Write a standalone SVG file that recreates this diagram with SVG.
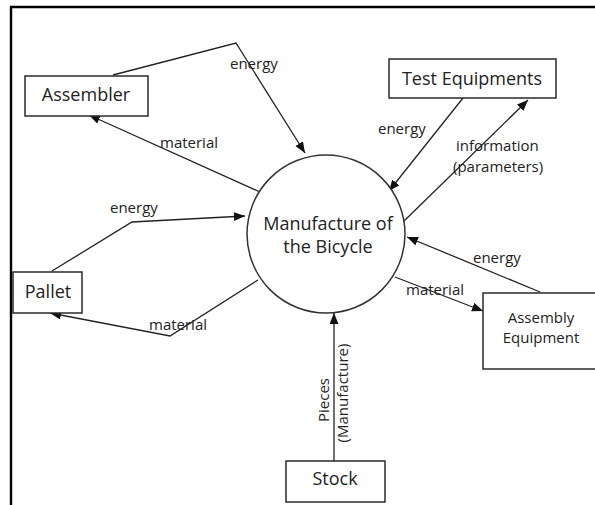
<svg xmlns="http://www.w3.org/2000/svg" width="595" height="505" viewBox="0 0 595 505">
<style>
.box{fill:#fff;stroke:#2a2a2a;stroke-width:1.5}
.circ{fill:#fff;stroke:#333;stroke-width:1.5}
.ln{fill:none;stroke:#222;stroke-width:1.3}
.t{font-family:"Open Sans","Liberation Sans",sans-serif;fill:#222}
.nt{font-size:18px}
.lt{font-size:15px}
</style>
<defs>
<marker id="ah" markerUnits="userSpaceOnUse" markerWidth="12" markerHeight="10" refX="11" refY="4.5" orient="auto">
<path d="M0,0 L11,4.5 L0,9 z" fill="#111"/>
</marker>
</defs>
<rect width="595" height="505" fill="#fff"/>
<path d="M11,505 V7 H595" fill="none" stroke="#000" stroke-width="2.4"/>
<g id="connectors">
<path class="ln" d="M113,75 L236,43 L305,153" marker-end="url(#ah)"/>
<path class="ln" d="M260,192 L89,115" marker-end="url(#ah)"/>
<path class="ln" d="M463,98 L389,191" marker-end="url(#ah)"/>
<path class="ln" d="M403,222 L528,100" marker-end="url(#ah)"/>
<path class="ln" d="M52,271 L132,222 L245,216" marker-end="url(#ah)"/>
<path class="ln" d="M258,280 L170,336 L50,313" marker-end="url(#ah)"/>
<path class="ln" d="M540,292 L407,237" marker-end="url(#ah)"/>
<path class="ln" d="M395,277 L483,311" marker-end="url(#ah)"/>
<path class="ln" d="M334,461 L334,313" marker-end="url(#ah)"/>
<text class="t lt" x="230" y="69">energy</text>
<text class="t lt" x="160" y="148">material</text>
<text class="t lt" x="378" y="134">energy</text>
<text class="t lt" x="456" y="151">information</text>
<text class="t lt" x="453" y="172">(parameters)</text>
<text class="t lt" x="110" y="213">energy</text>
<text class="t lt" x="149" y="330">material</text>
<text class="t lt" x="473" y="263">energy</text>
<text class="t lt" x="406" y="295">material</text>
<text class="t lt" transform="translate(329,400) rotate(-90)" text-anchor="middle">Pieces</text>
<text class="t lt" transform="translate(348,393) rotate(-90)" text-anchor="middle">(Manufacture)</text>
</g>
<g id="manufacture">
<circle class="circ" cx="326" cy="234" r="79"/>
<text class="t nt" x="328" y="230" text-anchor="middle">Manufacture of</text>
<text class="t nt" x="328" y="253" text-anchor="middle">the Bicycle</text>
</g>
<g id="assembler">
<rect class="box" x="25" y="76" width="123" height="40"/>
<text class="t nt" x="86" y="101" text-anchor="middle">Assembler</text>
</g>
<g id="test-equipments">
<rect class="box" x="389" y="59" width="167" height="39"/>
<text class="t nt" x="472" y="85" text-anchor="middle">Test Equipments</text>
</g>
<g id="pallet">
<rect class="box" x="13" y="272" width="69" height="41"/>
<text class="t nt" x="48" y="298" text-anchor="middle">Pallet</text>
</g>
<g id="assembly-equipment">
<rect class="box" x="483" y="293" width="120" height="76"/>
<text class="t lt" x="541" y="323" text-anchor="middle">Assembly</text>
<text class="t lt" x="541" y="343" text-anchor="middle">Equipment</text>
</g>
<g id="stock">
<rect class="box" x="286" y="461" width="99" height="41"/>
<text class="t nt" x="335" y="485" text-anchor="middle">Stock</text>
</g>
</svg>
